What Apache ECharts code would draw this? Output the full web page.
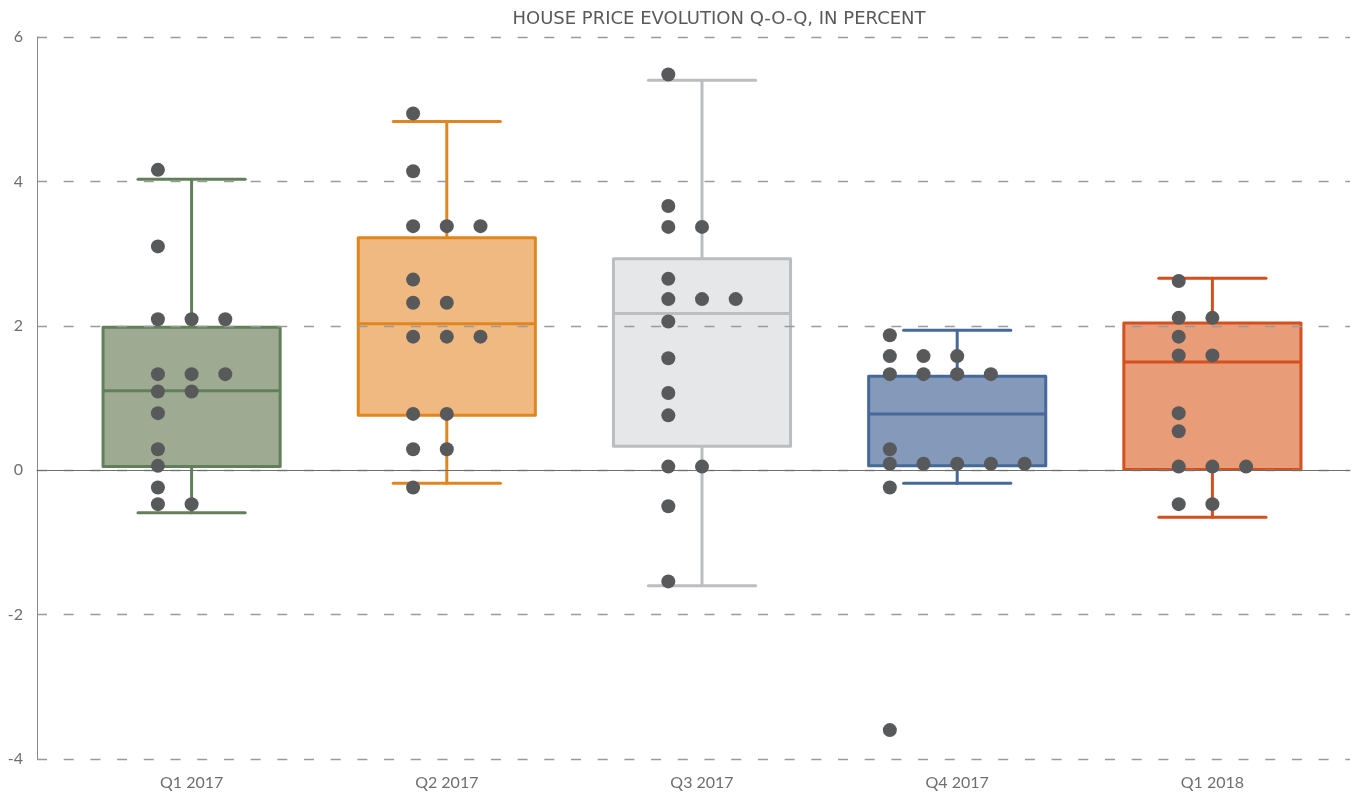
<!DOCTYPE html>
<html><head><meta charset="utf-8">
<script src="https://cdn.jsdelivr.net/npm/echarts@6/dist/echarts.min.js"></script>
<style>html,body{margin:0;padding:0;background:#fff}#c{width:1368px;height:796px}</style>
</head><body><div id="c"></div>
<script>
// ---- data ----
const categories = ['Q1 2017', 'Q2 2017', 'Q3 2017', 'Q4 2017', 'Q1 2018'];
const yTickLabels = [-4, -2, 0, 2, 4, 6];
// box stats: [lower whisker, Q1, median, Q3, upper whisker]
const boxQ1_2017 = [-0.59, 0.05, 1.10, 1.98, 4.03];
const boxQ2_2017 = [-0.18, 0.76, 2.03, 3.22, 4.83];
const boxQ3_2017 = [-1.60, 0.33, 2.17, 2.93, 5.40];
const boxQ4_2017 = [-0.18, 0.06, 0.78, 1.30, 1.94];
const boxQ1_2018 = [-0.65, 0.01, 1.50, 2.04, 2.66];
// individual observations
const ptsQ1_2017 = [4.16, 3.10, 2.09, 2.09, 2.09, 1.33, 1.33, 1.33, 1.09, 1.09, 0.79, 0.29, 0.06, -0.24, -0.47, -0.47];
const ptsQ2_2017 = [4.94, 4.14, 3.38, 3.38, 3.38, 2.64, 2.32, 2.32, 1.85, 1.85, 1.85, 0.78, 0.78, 0.29, 0.29, -0.24];
const ptsQ3_2017 = [5.48, 3.66, 3.37, 3.37, 2.65, 2.37, 2.37, 2.37, 2.06, 1.55, 1.07, 0.76, 0.05, 0.05, -0.50, -1.54];
const ptsQ4_2017 = [1.87, 1.58, 1.58, 1.58, 1.33, 1.33, 1.33, 1.33, 0.29, 0.09, 0.09, 0.09, 0.09, 0.09, -0.24, -3.60];
const ptsQ1_2018 = [2.62, 2.11, 2.11, 1.85, 1.59, 1.59, 0.79, 0.54, 0.05, 0.05, 0.05, -0.47, -0.47];

// ---- styles ----
const fills = ['#9eaa91', '#f0b982', '#e6e7e9', '#8599bb', '#e89c77'];
const strokes = ['#61805a', '#e0861e', '#bcbdc0', '#46699a', '#d4501f'];
const dotColor = '#58595b';
const textColor = '#6d6e71';
const FONT = 'Lato';

const boxes = [boxQ1_2017, boxQ2_2017, boxQ3_2017, boxQ4_2017, boxQ1_2018];
const pts = [ptsQ1_2017, ptsQ2_2017, ptsQ3_2017, ptsQ4_2017, ptsQ1_2018];

const boxData = boxes.map((b, i) => [i].concat(b));

// swarm layout: equal values share a row, placed side by side
const colStep = 0.132;
const dotData = [];
pts.forEach((arr, i) => {
  const counts = {};
  arr.forEach(v => { counts[v] = (counts[v] || 0) + 1; });
  const maxCount = Math.max.apply(null, Object.values(counts));
  const used = {};
  arr.forEach(v => {
    const col = used[v] || 0;
    used[v] = col + 1;
    dotData.push([i + (col - (maxCount - 1) / 2) * colStep, v]);
  });
});

const yMin = yTickLabels[0], yMax = yTickLabels[yTickLabels.length - 1];
const yInt = yTickLabels[1] - yTickLabels[0];

const chart = echarts.init(document.getElementById('c'));
chart.setOption({
  animation: false,
  backgroundColor: '#fff',
  title: {
    text: 'HOUSE PRICE EVOLUTION Q-O-Q, IN PERCENT',
    left: 714, top: 3, textAlign: 'center',
    textStyle: { fontFamily: 'DejaVu Sans', fontSize: 18, fontWeight: 'normal', color: '#58595b', lineHeight: 22 }
  },
  grid: [
    { left: 37, right: 18, top: 37, bottom: 37 },
    { left: 64, right: 28, top: 37, bottom: 37 }
  ],
  xAxis: [
    { gridIndex: 0, type: 'value', min: 0, max: 1, z: 3,
      axisLine: { show: true, onZero: true, lineStyle: { color: '#6d6e71', width: 1 } },
      axisTick: { show: false }, axisLabel: { show: false }, splitLine: { show: false } },
    { gridIndex: 1, type: 'category', data: categories, position: 'bottom',
      axisLine: { show: false, onZero: false }, axisTick: { show: false },
      axisLabel: { margin: 16, color: textColor, fontFamily: FONT, fontSize: 16 } },
    { gridIndex: 1, type: 'value', min: -0.5, max: 4.5, show: false }
  ],
  yAxis: [
    { gridIndex: 0, type: 'value', min: yMin, max: yMax, interval: yInt, z: 3,
      axisLine: { show: true, lineStyle: { color: '#8a8a8a', width: 1 } },
      axisTick: { show: false },
      axisLabel: { margin: 14, color: textColor, fontFamily: FONT, fontSize: 16 },
      splitLine: { show: true, lineStyle: { color: '#9a9a9a', width: 1.3, type: [10, 16.7] } } },
    { gridIndex: 1, type: 'value', min: yMin, max: yMax, show: false }
  ],
  series: [
    {
      type: 'custom', xAxisIndex: 2, yAxisIndex: 1, z: 2,
      data: boxData,
      encode: { x: 0, y: [1, 2, 3, 4, 5] },
      renderItem: function (params, api) {
        const i = params.dataIndex;
        const x = api.value(0);
        const band = api.size([1, 0])[0];
        const bw = band * 0.694, cw = band * 0.42;
        const pLow = api.coord([x, api.value(1)]);
        const pQ1 = api.coord([x, api.value(2)]);
        const pMed = api.coord([x, api.value(3)]);
        const pQ3 = api.coord([x, api.value(4)]);
        const pHigh = api.coord([x, api.value(5)]);
        const cx = pMed[0];
        const ls = { stroke: strokes[i], lineWidth: 3, lineCap: 'round' };
        return {
          type: 'group',
          children: [
            { type: 'line', shape: { x1: cx, y1: pQ3[1], x2: cx, y2: pHigh[1] }, style: ls },
            { type: 'line', shape: { x1: cx, y1: pQ1[1], x2: cx, y2: pLow[1] }, style: ls },
            { type: 'line', shape: { x1: cx - cw / 2, y1: pHigh[1], x2: cx + cw / 2, y2: pHigh[1] }, style: ls },
            { type: 'line', shape: { x1: cx - cw / 2, y1: pLow[1], x2: cx + cw / 2, y2: pLow[1] }, style: ls },
            { type: 'rect', shape: { x: cx - bw / 2, y: pQ3[1], width: bw, height: pQ1[1] - pQ3[1] },
              style: { fill: fills[i], stroke: strokes[i], lineWidth: 3, lineJoin: 'round' } },
            { type: 'line', shape: { x1: cx - bw / 2, y1: pMed[1], x2: cx + bw / 2, y2: pMed[1] },
              style: { stroke: strokes[i], lineWidth: 3 } }
          ]
        };
      }
    },
    {
      type: 'scatter', xAxisIndex: 2, yAxisIndex: 1, z: 10,
      data: dotData, symbolSize: 14,
      itemStyle: { color: dotColor, opacity: 1 }
    }
  ]
});
</script>
</body></html>
